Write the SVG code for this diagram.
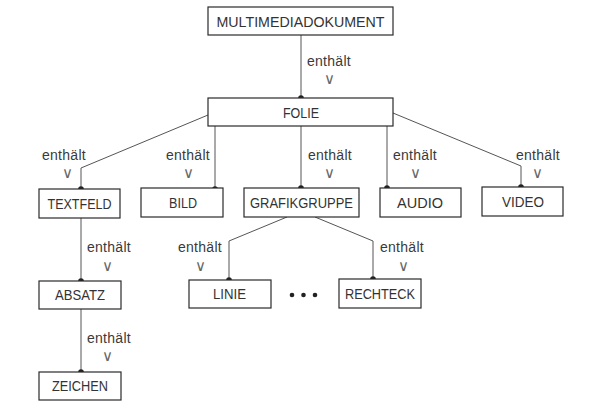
<svg xmlns="http://www.w3.org/2000/svg" width="595" height="420" viewBox="0 0 595 420">
<style>
.box{fill:#fff;stroke:#2a2a2a;stroke-width:1.2}
.lbl{font-family:"Liberation Sans","DejaVu Sans",sans-serif;font-size:14px;fill:#333;text-anchor:middle}
.rel{font-family:"Liberation Sans","DejaVu Sans",sans-serif;font-size:14px;fill:#3a3a3a;text-anchor:middle;letter-spacing:0.3px}
.v{font-family:"DejaVu Sans",sans-serif;font-size:15px;font-weight:200;fill:#666;text-anchor:middle}
.ln{fill:none;stroke:#555;stroke-width:1}
.dot{fill:#222}
</style>
<rect width="595" height="420" fill="#fff"/>
<g id="connectors">
<path class="ln" d="M301,35 V98"/>
<path class="ln" d="M208,115 L81,168 V189"/>
<path class="ln" d="M215,126 V189"/>
<path class="ln" d="M301,126 V188"/>
<path class="ln" d="M387,126 V188"/>
<path class="ln" d="M393,113 L521,166 V187"/>
<path class="ln" d="M81,218 V281"/>
<path class="ln" d="M81,309 V372"/>
<path class="ln" d="M287,217 L229,241 V280"/>
<path class="ln" d="M315,217 L373,241 V279"/>
<circle class="dot" cx="301" cy="98" r="2.8"/>
<circle class="dot" cx="81" cy="189" r="2.8"/>
<circle class="dot" cx="215" cy="189" r="2.8"/>
<circle class="dot" cx="301" cy="188" r="2.8"/>
<circle class="dot" cx="387" cy="188" r="2.8"/>
<circle class="dot" cx="521" cy="187" r="2.8"/>
<circle class="dot" cx="81" cy="281" r="2.8"/>
<circle class="dot" cx="81" cy="372" r="2.8"/>
<circle class="dot" cx="229" cy="280" r="2.8"/>
<circle class="dot" cx="373" cy="279" r="2.8"/>
<text class="rel" x="329" y="66">enthält</text><text class="v" x="329" y="84">∨</text>
<text class="rel" x="64" y="160">enthält</text><text class="v" x="67" y="178">∨</text>
<text class="rel" x="188" y="160">enthält</text><text class="v" x="188" y="178">∨</text>
<text class="rel" x="330" y="160">enthält</text><text class="v" x="329" y="178">∨</text>
<text class="rel" x="415" y="160">enthält</text><text class="v" x="415" y="178">∨</text>
<text class="rel" x="538" y="160">enthält</text><text class="v" x="537" y="178">∨</text>
<text class="rel" x="109" y="252">enthält</text><text class="v" x="107" y="271">∨</text>
<text class="rel" x="109" y="343">enthält</text><text class="v" x="107" y="361">∨</text>
<text class="rel" x="200" y="252">enthält</text><text class="v" x="200" y="271">∨</text>
<text class="rel" x="402" y="252">enthält</text><text class="v" x="403" y="271">∨</text>
<circle class="dot" cx="292" cy="295" r="2.3"/>
<circle class="dot" cx="303.5" cy="295" r="2.3"/>
<circle class="dot" cx="315" cy="295" r="2.3"/>
</g>
<g id="multimediadokument"><rect class="box" x="208" y="7" width="185" height="28"/><text class="lbl" x="300.5" y="26.5" textLength="168" lengthAdjust="spacingAndGlyphs">MULTIMEDIADOKUMENT</text></g>
<g id="folie"><rect class="box" x="208" y="98" width="185" height="28"/><text class="lbl" x="301" y="117.5" textLength="36" lengthAdjust="spacingAndGlyphs">FOLIE</text></g>
<g id="textfeld"><rect class="box" x="39" y="189" width="81" height="29"/><text class="lbl" x="79.5" y="208.5" textLength="64" lengthAdjust="spacingAndGlyphs">TEXTFELD</text></g>
<g id="bild"><rect class="box" x="141" y="188" width="82" height="29"/><text class="lbl" x="183" y="207.5" textLength="28" lengthAdjust="spacingAndGlyphs">BILD</text></g>
<g id="grafikgruppe"><rect class="box" x="244" y="188" width="115" height="29"/><text class="lbl" x="301.5" y="207.5" textLength="103" lengthAdjust="spacingAndGlyphs">GRAFIKGRUPPE</text></g>
<g id="audio"><rect class="box" x="380" y="188" width="81" height="29"/><text class="lbl" x="420" y="207.5" textLength="46" lengthAdjust="spacingAndGlyphs">AUDIO</text></g>
<g id="video"><rect class="box" x="482" y="187" width="81" height="29"/><text class="lbl" x="523" y="206.5" textLength="42" lengthAdjust="spacingAndGlyphs">VIDEO</text></g>
<g id="absatz"><rect class="box" x="39" y="281" width="82" height="28"/><text class="lbl" x="80" y="300" textLength="50" lengthAdjust="spacingAndGlyphs">ABSATZ</text></g>
<g id="zeichen"><rect class="box" x="39" y="372" width="82" height="28"/><text class="lbl" x="80" y="391" textLength="56" lengthAdjust="spacingAndGlyphs">ZEICHEN</text></g>
<g id="linie"><rect class="box" x="189" y="280" width="82" height="28"/><text class="lbl" x="229.5" y="299" textLength="33" lengthAdjust="spacingAndGlyphs">LINIE</text></g>
<g id="rechteck"><rect class="box" x="339" y="279" width="82" height="29"/><text class="lbl" x="380" y="298.5" textLength="70" lengthAdjust="spacingAndGlyphs">RECHTECK</text></g>
</svg>
